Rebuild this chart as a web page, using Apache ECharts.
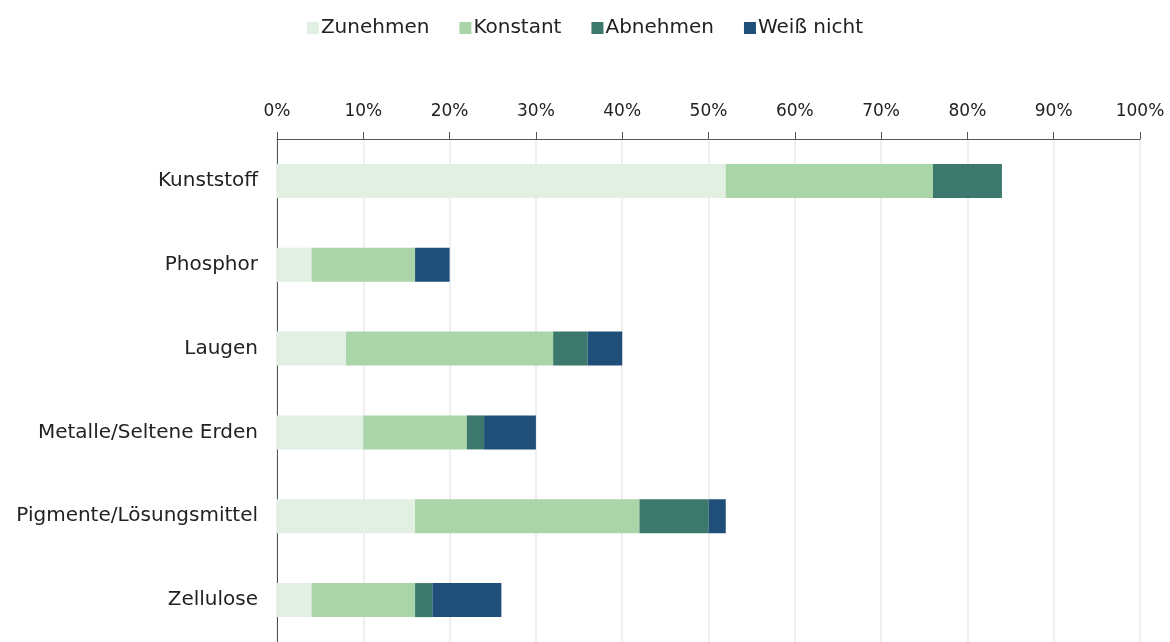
<!DOCTYPE html>
<html>
<head>
<meta charset="utf-8">
<script src="https://cdn.jsdelivr.net/npm/echarts@6/dist/echarts.min.js"></script>
<style>
html, body { margin: 0; padding: 0; background: #fff; }
#main { width: 1170px; height: 642px; }
</style>
</head>
<body>
<div id="main"></div>
<script>
var categories = ['Kunststoff', 'Phosphor', 'Laugen', 'Metalle/Seltene Erden', 'Pigmente/Lösungsmittel', 'Zellulose'];
var zunehmen = [52, 4, 8, 10, 16, 4];
var konstant = [24, 12, 24, 12, 26, 12];
var abnehmen = [8, 0, 4, 2, 8, 2];
var weissNicht = [0, 4, 4, 6, 2, 8];

var seriesNames = ['Zunehmen', 'Konstant', 'Abnehmen', 'Weiß nicht'];
var seriesColors = ['#e2f0e3', '#a9d5a8', '#3d786d', '#1f4e78'];
var seriesData = [zunehmen, konstant, abnehmen, weissNicht];

var font = '"DejaVu Sans", sans-serif';

var chart = echarts.init(document.getElementById('main'), null, { renderer: 'canvas' });

var series = [];
for (var i = 0; i < seriesNames.length; i++) {
	series.push({
		name: seriesNames[i],
		type: 'bar',
		stack: 'total',
		barWidth: 34,
		itemStyle: { color: seriesColors[i] },
		data: seriesData[i]
	});
}

var option = {
	animation: false,
	legend: {
		top: 13,
		left: 'center',
		itemWidth: 12,
		itemHeight: 12,
		itemGap: 30,
		icon: 'rect',
		textStyle: { fontFamily: font, fontSize: 20, color: '#222', padding: [0, 0, 0, -3] },
		data: seriesNames
	},
	grid: {
		left: 277,
		right: 30,
		top: 139,
		bottom: -7,
		containLabel: false
	},
	xAxis: {
		type: 'value',
		position: 'top',
		min: 0,
		max: 100,
		interval: 10,
		axisLine: { show: true, lineStyle: { color: '#555', width: 1 } },
		axisTick: { show: true, length: 7, lineStyle: { color: '#555' } },
		axisLabel: {
			formatter: '{value}%',
			fontFamily: font,
			fontSize: 17,
			color: '#222',
			margin: 19
		},
		splitLine: { show: true, lineStyle: { color: '#efefef', width: 2 } }
	},
	yAxis: {
		type: 'category',
		inverse: true,
		data: categories,
		axisLine: { show: true, lineStyle: { color: '#555', width: 1 } },
		axisTick: { show: false },
		axisLabel: {
			fontFamily: font,
			fontSize: 20,
			color: '#222',
			margin: 19
		}
	},
	series: series
};

chart.setOption(option);
</script>
</body>
</html>
